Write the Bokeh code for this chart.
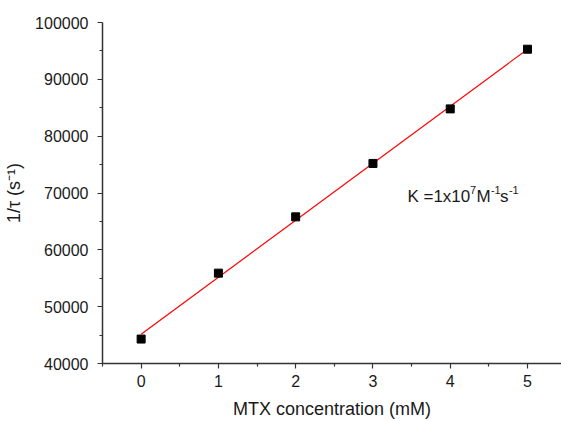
import numpy as np
from bokeh.plotting import figure
from bokeh.models import FixedTicker, Label, Range1d, NumeralTickFormatter
from bokeh.embed import file_html
from bokeh.resources import INLINE

# data
conc = [0, 1, 2, 3, 4, 5]
rate = [44300, 55900, 65800, 75200, 84800, 95300]
x_ticks = [0, 1, 2, 3, 4, 5]
x_minor = [-0.5, 0.5, 1.5, 2.5, 3.5, 4.5, 5.5]
y_ticks = [40000, 50000, 60000, 70000, 80000, 90000, 100000]
y_minor = [45000, 55000, 65000, 75000, 85000, 95000]

slope, intercept = np.polyfit(conc, rate, 1)
fit_x = [conc[0], conc[-1]]
fit_y = [intercept + slope * v for v in fit_x]

FONT = "Liberation Sans"
TXT = "#1a1a1a"

p = figure(width=561, height=421, output_backend="svg", toolbar_location=None,
           x_range=Range1d(-0.5, 5.44), y_range=Range1d(40000, 100000),
           min_border_left=102, min_border_right=0, min_border_top=22,
           min_border_bottom=58)
p.outline_line_color = None
p.xgrid.visible = False
p.ygrid.visible = False
p.background_fill_color = "white"
p.border_fill_color = "white"

p.line(fit_x, fit_y, line_color="#ff0000", line_width=1.2)
p.scatter(conc, rate, marker="square", size=8, fill_color="black", line_color="black")

for ax in (p.xaxis[0], p.yaxis[0]):
    ax.axis_line_color = "#333333"
    ax.axis_line_width = 1.5
    ax.major_tick_line_color = "#333333"
    ax.minor_tick_line_color = "#333333"
    ax.major_tick_line_width = 1.2
    ax.minor_tick_line_width = 1.2
    ax.major_tick_in = 0
    ax.major_tick_out = 5
    ax.minor_tick_in = 0
    ax.minor_tick_out = 3
    ax.major_label_text_font = FONT
    ax.major_label_text_font_size = "16px"
    ax.major_label_text_color = TXT
    ax.axis_label_text_font = FONT
    ax.axis_label_text_font_size = "18px"
    ax.axis_label_text_font_style = "normal"
    ax.axis_label_text_color = TXT

p.xaxis[0].ticker = FixedTicker(ticks=x_ticks, minor_ticks=x_minor)
p.yaxis[0].ticker = FixedTicker(ticks=y_ticks, minor_ticks=y_minor)
p.yaxis[0].formatter = NumeralTickFormatter(format="0")
p.xaxis[0].major_label_standoff = 6
p.yaxis[0].major_label_standoff = 9
p.xaxis.axis_label = "MTX concentration (mM)"
p.yaxis.axis_label = "1/\u03c4 (s\u207b\u00b9)"
p.xaxis[0].axis_label_standoff = 9
p.yaxis[0].axis_label_standoff = 8

# annotation K = 1x10^7 M^-1 s^-1
ax0, ay0 = 3.446, 69350
pieces = [
    ("K =1x10", 0, 0, "17px"),
    ("7", 62.5, 7, "11px"),
    ("M", 69, 0, "17px"),
    ("-1", 83.5, 7, "11px"),
    ("s", 92.5, 0, "17px"),
    ("-1", 101.5, 7, "11px"),
]
for t, dx, dy, fs in pieces:
    p.add_layout(Label(x=ax0, y=ay0, x_offset=dx, y_offset=dy, text=t,
                       text_font=FONT, text_font_size=fs, text_color=TXT,
                       text_baseline="alphabetic", text_align="left"))

open("out.html", "w").write(file_html(p, INLINE))
